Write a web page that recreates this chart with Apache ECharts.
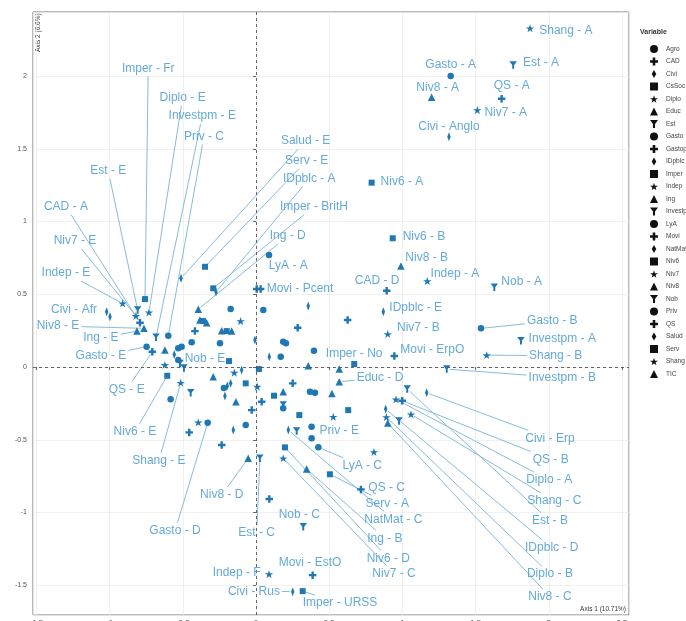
<!DOCTYPE html>
<html><head><meta charset="utf-8">
<script src="https://cdn.jsdelivr.net/npm/echarts@6/dist/echarts.min.js"></script>
<style>html,body{margin:0;padding:0;background:#fff}#c{width:686px;height:621px}</style>
</head><body><div id="c"></div>
<script>
// ---------- DATA (MCA coordinates) ----------
const variables = ['Agro','CAD','Civi','CsSoc','Diplo','Educ','Est','Gasto','Gastop','IDpblc','Imper','Indep','Ing','Investpm','LyA','Movi','NatMat','Niv6','Niv7','Niv8','Nob','Priv','QS','Salud','Serv','Shang','TIC'];
// [Axis 1, Axis 2, category label or null]
const Agro = [[-0.173,0.399,null],[0.186,0.174,null],[0.396,0.112,null],[-0.219,-0.144,null],[0.403,-0.177,null],[-0.531,0.048,null]];
const CAD = [[-0.792,0.304,'A'],[0.893,0.524,'D'],[0.285,0.270,null],[0.039,-0.238,null],[-0.234,-0.536,null]];
const Civi = [[1.318,1.583,'Anglo'],[1.166,-0.177,'Erp'],[-1.020,0.380,'Afr'],[0.251,-1.544,'Rus'],[-0.007,0.186,null],[-0.196,-0.131,null]];
const CsSoc = [[-0.362,0.316,null],[-0.200,0.247,null],[0.020,-0.014,null],[0.296,-0.330,null]];
const Diplo = [[0.956,-0.222,'A'],[0.891,-0.344,'B'],[-0.731,0.376,'E'],[-0.148,-0.039,null],[0.806,-0.584,null]];
const Educ = [[0.569,-0.101,'D'],[-0.383,0.323,null],[-0.234,0.249,null],[0.357,0.009,null],[0.186,-0.170,null]];
const Est = [[1.757,2.076,'A'],[1.033,-0.151,'B'],[0.027,-0.627,'C'],[-0.808,0.392,'E'],[-0.446,-0.177,null]];
const Gasto = [[1.330,2.000,'A'],[1.537,0.266,'B'],[-0.330,-0.383,'D'],[-0.747,0.140,'E'],[-0.246,0.163,null],[0.369,-0.170,null]];
const Gastop = [[0.626,0.323,null],[0.251,-0.112,null],[0.091,-0.907,null],[-0.417,0.247,null]];
const IDpblc = [[-0.273,0.515,'A'],[0.886,-0.289,'D'],[0.870,0.380,'E'],[0.091,0.071,null]];
const Imper = [[-0.758,0.467,'Fr'],[-0.292,0.541,'BritH'],[0.671,0.021,'No'],[0.319,-1.540,'URSS'],[0.630,-0.296,null]];
const Indep = [[1.170,0.591,'A'],[-0.911,0.438,'E'],[0.089,-1.423,'F'],[0.009,-0.135,null],[0.528,-0.342,null],[-0.394,-0.380,null]];
const Ing = [[0.346,-0.701,'B'],[-0.394,0.397,'D'],[-0.813,0.247,'E'],[-0.292,-0.067,null],[0.519,-0.181,null]];
const Investpm = [[1.810,0.181,'A'],[1.303,-0.014,'B'],[-0.683,0.204,'E'],[0.186,-0.261,null],[0.278,-0.440,null]];
const LyA = [[0.089,0.770,'A'],[0.426,-0.552,'C'],[0.205,0.163,null],[0.380,-0.490,null],[-0.583,-0.222,null],[-0.439,0.170,null]];
const Movi = [[0.945,0.076,'ErpO'],[0.005,0.536,'Pcent'],[0.387,-1.430,'EstO'],[0.032,0.536,null],[-0.456,-0.449,null]];
const NatMat = [[0.221,-0.433,'C'],[-0.212,-0.199,null],[-0.558,0.087,null],[-0.155,-0.433,null]];
const Niv6 = [[0.790,1.267,'A'],[0.934,0.885,'B'],[0.198,-0.552,'D'],[-0.606,-0.060,'E'],[0.123,-0.197,null]];
const Niv7 = [[1.512,1.766,'A'],[0.900,0.227,'B'],[0.186,-0.627,'C'],[-0.820,0.351,'E'],[-0.622,0.014,null]];
const Niv8 = [[1.200,1.854,'A'],[0.990,0.694,'B'],[0.900,-0.385,'C'],[-0.053,-0.627,'D'],[-0.765,0.266,'E']];
const Nob = [[1.628,0.548,'A'],[0.323,-1.098,'C'],[-0.519,0.025,'E'],[0.977,-0.371,null],[-0.492,-0.007,null]];
const Priv = [[-0.599,0.215,'C'],[0.380,-0.410,'E'],[0.050,0.392,null],[0.169,0.071,null],[0.186,-0.284,null],[-0.070,-0.399,null],[-0.531,0.129,null],[-0.508,0.140,null]];
const QS = [[1.678,1.844,'A'],[0.999,-0.232,'B'],[0.717,-0.841,'C'],[-0.708,0.105,'E'],[-0.029,-0.296,null]];
const Salud = [[-0.512,0.610,'E'],[0.357,0.419,null],[-0.098,-0.021,null],[-0.997,0.346,null],[-0.173,-0.112,null]];
const Serv = [[0.505,-0.737,'A'],[-0.348,0.689,'E'],[-0.184,0.041,null],[-0.070,-0.112,null]];
const Shang = [[1.872,2.328,'A'],[1.576,0.082,'B'],[1.059,-0.325,'C'],[-0.514,-0.108,'E'],[-0.105,0.316,null]];
const TIC = [[-0.337,0.304,null],[-0.166,0.247,null],[0.569,-0.014,null],[-0.137,-0.238,null],[-0.622,0.117,null]];

// label anchor (text centre) positions, in axis units
const labelPos = {
 'Shang - A':[2.117,2.311],'Est - A':[1.947,2.091],'Gasto - A':[1.330,2.076],'Niv8 - A':[1.241,1.922],
 'QS - A':[1.747,1.931],'Niv7 - A':[1.706,1.750],'Civi - Anglo':[1.318,1.652],'Niv6 - A':[0.997,1.274],
 'Niv6 - B':[1.148,0.893],'Niv8 - B':[1.166,0.751],'Indep - A':[1.359,0.644],'Nob - A':[1.815,0.584],
 'CAD - D':[0.827,0.595],'IDpblc - E':[1.091,0.408],'Niv7 - B':[1.109,0.270],'Movi - ErpO':[1.204,0.122],
 'Gasto - B':[2.024,0.316],'Investpm - A':[2.092,0.197],'Shang - B':[2.047,0.078],'Investpm - B':[2.092,-0.074],
 'Imper - No':[0.671,0.089],'Educ - D':[0.847,-0.076],'Civi - Erp':[2.008,-0.490],'QS - B':[2.013,-0.634],
 'Diplo - A':[2.003,-0.777],'Shang - C':[2.038,-0.921],'Est - B':[2.008,-1.058],'IDpblc - D':[2.020,-1.242],
 'Diplo - B':[2.008,-1.423],'Niv8 - C':[2.008,-1.579],'LyA - C':[0.726,-0.678],'QS - C':[0.893,-0.830],
 'Serv - A':[0.897,-0.937],'NatMat - C':[0.938,-1.047],'Ing - B':[0.881,-1.177],'Niv6 - D':[0.904,-1.315],
 'Niv7 - C':[0.943,-1.418],'Priv - E':[0.569,-0.440],'Niv8 - D':[-0.234,-0.880],'Est - C':[0.005,-1.139],
 'Gasto - D':[-0.553,-1.125],'Shang - E':[-0.663,-0.644],'Nob - C':[0.296,-1.012],'Movi - EstO':[0.369,-1.345],
 'Indep - F':[-0.132,-1.414],'Civi - Rus':[-0.014,-1.544],'Imper - URSS':[0.574,-1.622],'Priv - C':[-0.355,1.584],
 'Est - E':[-1.009,1.349],'CAD - A':[-1.298,1.102],'Niv7 - E':[-1.236,0.866],'Indep - E':[-1.298,0.646],
 'Imper - Fr':[-0.736,2.053],'Diplo - E':[-0.501,1.851],'Investpm - E':[-0.367,1.725],'Niv8 - E':[-1.352,0.282],
 'Ing - E':[-1.059,0.199],'Gasto - E':[-1.059,0.076],'Civi - Afr':[-1.243,0.392],'QS - E':[-0.883,-0.153],
 'Niv6 - E':[-0.827,-0.445],'Nob - E':[-0.348,0.060],'Salud - E':[0.339,1.555],'Serv - E':[0.346,1.418],
 'IDpblc - A':[0.364,1.297],'Imper - BritH':[0.396,1.102],'Ing - D':[0.217,0.900],'LyA - A':[0.221,0.694],
 'Movi - Pcent':[0.301,0.536]
};

const seriesData = {Agro,CAD,Civi,CsSoc,Diplo,Educ,Est,Gasto,Gastop,IDpblc,Imper,Indep,Ing,Investpm,LyA,Movi,NatMat,Niv6,Niv7,Niv8,Nob,Priv,QS,Salud,Serv,Shang,TIC};

// ---------- STYLE ----------
const POINT = '#1F77B4', LABEL = '#3C94CF', SEG = '#86BCDD';
const FONT = '"Liberation Sans", Arial, Helvetica, sans-serif';
const SHAPES = [
  {symbol:'circle', size:6.5},
  {symbol:'path://M3.4,0H6.6V3.4H10V6.6H6.6V10H3.4V6.6H0V3.4H3.4Z', size:7.5},
  {symbol:'path://M5,0L9,7L5,14L1,7Z', size:[6,9]},
  {symbol:'rect', size:6},
  {symbol:'path://M50,0L61.8,35.1L98.6,35.1L68.8,56.8L79.4,90.5L50,69L20.6,90.5L31.2,56.8L1.4,35.1L38.2,35.1Z', size:8.5},
  {symbol:'triangle', size:7.5},
  {symbol:'path://M0,0L10,0L6.3,5V10H3.7V5Z', size:7.5}
];

const chart = echarts.init(document.getElementById('c'), null, {renderer:'canvas'});

const series = variables.map((v,i) => {
  const sh = SHAPES[i % 7];
  return {
    type:'scatter', name:v, symbol:sh.symbol, symbolSize:sh.size, symbolKeepAspect:true,
    itemStyle:{color:POINT, opacity:1}, z:3, silent:true,
    data: seriesData[v].map(d => ({value:[d[0],d[1]], name: d[2] ? v + ' - ' + d[2] : ''}))
  };
});

const labelled = [];
variables.forEach(v => seriesData[v].forEach(d => { if (d[2]) labelled.push({name: v + ' - ' + d[2], x:d[0], y:d[1]}); }));

series.push({
  type:'scatter', name:'_labels', symbolSize:1, itemStyle:{color:'rgba(0,0,0,0)'}, silent:true, z:5,
  data: labelled.map(l => ({value: labelPos[l.name], name: l.name})),
  label:{show:true, position:'inside', formatter:'{b}', color:LABEL, fontSize:12, fontFamily:FONT},
  markLine:{silent:true, symbol:'none', label:{show:false}, animation:false,
    lineStyle:{type:[3,3], color:'#555', width:0.9},
    data:[{xAxis:0},{yAxis:0}]}
});

const option = {
  animation:false,
  backgroundColor:'#fff',
  grid:{left:33, right:57, top:12, bottom:6, show:true, borderColor:'#777', borderWidth:1, backgroundColor:'#fff',
    containLabel:false, outerBoundsMode:'none'},
  xAxis:{type:'value', min:-1.523, max:2.548, splitNumber:8, minInterval:0.5, maxInterval:0.5,
    axisLine:{show:false}, axisTick:{show:true, length:3, lineStyle:{color:'#666'}},
    axisLabel:{fontSize:8, color:'#555', margin:4, showMinLabel:false, showMaxLabel:false, fontFamily:FONT},
    splitLine:{show:true, lineStyle:{color:'#ececec', width:0.8}}},
  yAxis:{type:'value', min:-1.704, max:2.440, splitNumber:8, minInterval:0.5, maxInterval:0.5,
    axisLine:{show:false}, axisTick:{show:true, length:3, lineStyle:{color:'#666'}},
    axisLabel:{fontSize:7, color:'#555', margin:6, showMinLabel:false, showMaxLabel:false, fontFamily:FONT},
    splitLine:{show:true, lineStyle:{color:'#ececec', width:0.8}}},
  legend:{data:variables, orient:'vertical', left:645, top:40, itemWidth:8, itemHeight:8, itemGap:4.5,
    selectedMode:false, itemStyle:{color:'#111', opacity:1},
    textStyle:{fontSize:6.5, color:'#444', lineHeight:8, fontFamily:FONT, padding:[0,0,0,3]}},
  graphic:[
    {type:'text', left:640, top:29, style:{text:'Variable', fill:'#333', font:'bold 7px ' + FONT}},
    {type:'text', x:35, y:52, rotation:Math.PI/2, style:{text:'Axis 2 (6.6%)', fill:'#333', textAlign:'left', textVerticalAlign:'top', font:'6.5px ' + FONT}},
    {type:'text', x:626, y:609, style:{text:'Axis 1 (10.71%)', fill:'#333', textAlign:'right', textVerticalAlign:'middle', font:'6.5px ' + FONT}}
  ],
  series: series
};
chart.setOption(option);

// ---------- leader segments (point -> edge of label box) ----------
const ctx = document.createElement('canvas').getContext('2d');
ctx.font = '12px ' + FONT;
const segs = [];
labelled.forEach(l => {
  const P = chart.convertToPixel({gridIndex:0}, [l.x, l.y]);
  const L = chart.convertToPixel({gridIndex:0}, labelPos[l.name]);
  const hw = ctx.measureText(l.name).width/2 + 2, hh = 8;
  const dx = P[0]-L[0], dy = P[1]-L[1];
  const tx = dx !== 0 ? hw/Math.abs(dx) : Infinity;
  const ty = dy !== 0 ? hh/Math.abs(dy) : Infinity;
  const t = Math.min(tx, ty);
  if (t >= 1) return;
  const E = [L[0]+dx*t, L[1]+dy*t];
  const len = Math.hypot(P[0]-E[0], P[1]-E[1]);
  if (len < 8) return;
  const k = 3/len;
  const S = [P[0] + (E[0]-P[0])*k, P[1] + (E[1]-P[1])*k];
  segs.push({coords:[chart.convertFromPixel({gridIndex:0}, S), chart.convertFromPixel({gridIndex:0}, E)]});
});
option.series.push({
  type:'lines', name:'_segments', coordinateSystem:'cartesian2d', silent:true, z:2,
  lineStyle:{color:SEG, width:1, opacity:1}, data:segs
});
chart.setOption(option);
</script>
</body></html>
